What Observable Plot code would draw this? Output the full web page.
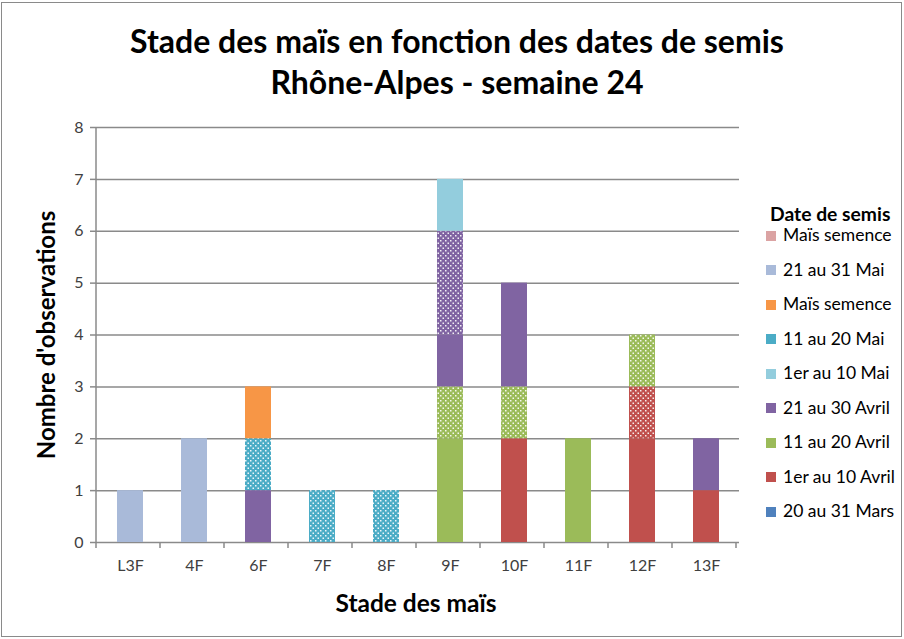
<!DOCTYPE html>
<html><head><meta charset="utf-8">
<script src="https://cdn.jsdelivr.net/npm/d3@7"></script>
<script src="https://cdn.jsdelivr.net/npm/@observablehq/plot@0.6"></script>
<style>
html,body{margin:0;padding:0;background:#fff;}
#chart{position:relative;width:904px;height:639px;overflow:hidden;font-family:Lato,"Open Sans",sans-serif;color:#000;}
#frame{position:absolute;left:1px;top:2px;width:899px;height:633px;border:1.5px solid #8a8a8a;}
#title{position:absolute;left:5px;top:20px;width:904px;text-align:center;font-weight:bold;font-size:32px;line-height:41px;}
#ytitle{position:absolute;left:45px;top:335px;transform:translate(-50%,-50%) rotate(-90deg);font-weight:bold;font-size:24px;white-space:nowrap;}
#xtitle{position:absolute;left:416px;top:602px;transform:translate(-50%,-50%);font-weight:bold;font-size:24.5px;white-space:nowrap;}
#legend{position:absolute;left:766px;top:202px;}
#legend .lt{font-weight:bold;font-size:19.3px;margin-left:4px;height:24px;line-height:24px;white-space:nowrap;}
#legend .it{position:absolute;left:0;height:22px;line-height:22px;font-size:17.5px;white-space:nowrap;}
#legend .sw{display:inline-block;width:10px;height:10px;margin-right:7px;vertical-align:middle;position:relative;top:-1px;}
#plot{position:absolute;left:0;top:0;}
</style>
</head><body>
<svg width="0" height="0" style="position:absolute">
  <defs id="pdefs"></defs>
</svg>
<div id="chart">
  <div id="frame"></div>
  <div id="plot"></div>
  <div id="title">Stade des maïs en fonction des dates de semis<br>Rhône-Alpes - semaine 24</div>
  <div id="ytitle">Nombre d'observations</div>
  <div id="xtitle">Stade des maïs</div>
  <div id="legend"></div>
</div>
<script>
// ---- data ----
const stages = ["L3F","4F","6F","7F","8F","9F","10F","11F","12F","13F"];
const yTicks = [0,1,2,3,4,5,6,7,8];
const legendTitle = "Date de semis";

const mars20_31            = [0,0,0,0,0,0,0,0,0,0];
const avril1_10            = [0,0,0,0,0,0,2,0,2,1];
const avril1_10_pointille  = [0,0,0,0,0,0,0,0,1,0];
const avril11_20           = [0,0,0,0,0,2,0,2,0,0];
const avril11_20_pointille = [0,0,0,0,0,1,1,0,1,0];
const avril21_30           = [0,0,1,0,0,1,2,0,0,1];
const avril21_30_pointille = [0,0,0,0,0,2,0,0,0,0];
const mai1_10              = [0,0,0,0,0,1,0,0,0,0];
const mai11_20             = [0,0,0,0,0,0,0,0,0,0];
const mai11_20_pointille   = [0,0,1,1,1,0,0,0,0,0];
const semenceA             = [0,0,1,0,0,0,0,0,0,0];
const mai21_31             = [1,2,0,0,0,0,0,0,0,0];
const semenceB             = [0,0,0,0,0,0,0,0,0,0];

// series in stacking order (bottom -> top)
const series = [
  {key:"mars20",  label:"20 au 31 Mars",   values:mars20_31,            color:"#4F81BD", dotted:false},
  {key:"avr1",    label:"1er au 10 Avril", values:avril1_10,            color:"#C0504D", dotted:false},
  {key:"avr1p",   label:"1er au 10 Avril", values:avril1_10_pointille,  color:"#C0504D", dotted:true},
  {key:"avr11",   label:"11 au 20 Avril",  values:avril11_20,           color:"#9BBB59", dotted:false},
  {key:"avr11p",  label:"11 au 20 Avril",  values:avril11_20_pointille, color:"#9BBB59", dotted:true},
  {key:"avr21",   label:"21 au 30 Avril",  values:avril21_30,           color:"#8064A2", dotted:false},
  {key:"avr21p",  label:"21 au 30 Avril",  values:avril21_30_pointille, color:"#8064A2", dotted:true},
  {key:"mai1",    label:"1er au 10 Mai",   values:mai1_10,              color:"#93CDDD", dotted:false},
  {key:"mai11",   label:"11 au 20 Mai",    values:mai11_20,             color:"#4BACC6", dotted:false},
  {key:"mai11p",  label:"11 au 20 Mai",    values:mai11_20_pointille,   color:"#4BACC6", dotted:true},
  {key:"semA",    label:"Maïs semence",    values:semenceA,             color:"#F79646", dotted:false},
  {key:"mai21",   label:"21 au 31 Mai",    values:mai21_31,             color:"#A9BAD9", dotted:false},
  {key:"semB",    label:"Maïs semence",    values:semenceB,             color:"#DBA3A3", dotted:false}
];

// dotted patterns
const defs = d3.select("#pdefs");
series.filter(s => s.dotted).forEach(s => {
  const p = defs.append("pattern").attr("id","dots-"+s.key)
    .attr("patternUnits","userSpaceOnUse").attr("width",5).attr("height",5);
  p.append("rect").attr("width",5).attr("height",5).attr("fill",s.color);
  p.append("rect").attr("x",0).attr("y",0).attr("width",1.5).attr("height",1.5).attr("fill","#fff").attr("fill-opacity",0.9);
  p.append("rect").attr("x",2.5).attr("y",2.5).attr("width",1.5).attr("height",1.5).attr("fill","#fff").attr("fill-opacity",0.9);
});

const rows = [];
series.forEach(s => s.values.forEach((v,i) => { if (v > 0) rows.push({stage:stages[i], key:s.key, count:v}); }));

const keys = series.map(s => s.key);
const fills = series.map(s => s.dotted ? `url(#dots-${s.key})` : s.color);

const W = 904, H = 639, ml = 96, mr = 165, mt = 127, mb = 97;

const plot = Plot.plot({
  width: W, height: H,
  marginLeft: ml, marginRight: mr, marginTop: mt, marginBottom: mb,
  style: {fontFamily: "Lato, 'Open Sans', sans-serif", background: "transparent", overflow: "visible"},
  x: {domain: stages, paddingInner: 0.6, paddingOuter: 0.3, label: null},
  y: {domain: [0, 8], label: null},
  color: {type: "ordinal", domain: keys, range: fills},
  marks: [
    Plot.ruleY(yTicks, {y: d => d, stroke: "#8a8a8a", strokeWidth: 1.5}),
    Plot.rectY(rows, Plot.stackY({x: "stage", y: "count", fill: "key", order: keys})),
    Plot.axisY({ticks: yTicks, tickFormat: d => d, tickSize: 6, tickPadding: 7, fontSize: 16, color: "#404040", stroke: "#8a8a8a", strokeWidth: 1.5, label: null}),
    Plot.axisX({tickSize: 0, tickPadding: 17, fontSize: 16, color: "#404040", label: null})
  ]
});
document.getElementById("plot").appendChild(plot);

// axis line and band-boundary ticks using the plot's x scale
const xs = plot.scale("x"), ys = plot.scale("y");
const r0 = xs.range[0], step = xs.step;
const yb = ys.apply(0), yt = ys.apply(8);
const g = d3.select(plot).append("g").attr("stroke","#8a8a8a").attr("stroke-width",1.5);
g.append("line").attr("x1",r0).attr("x2",r0).attr("y1",yt).attr("y2",yb);
d3.range(stages.length + 1).forEach(i => {
  const x = r0 + i * step;
  g.append("line").attr("x1",x).attr("x2",x).attr("y1",yb).attr("y2",yb + 6);
});

// legend (reverse stacking order, solid series only)
const leg = d3.select("#legend");
leg.append("div").attr("class","lt").text(legendTitle);
series.filter(s => !s.dotted).slice().reverse().forEach((s, i) => {
  const it = leg.append("div").attr("class","it").style("top", (22 + i * 34.5) + "px");
  it.append("span").attr("class","sw").style("background", s.color);
  it.append("span").text(s.label);
});
</script>
</body></html>
